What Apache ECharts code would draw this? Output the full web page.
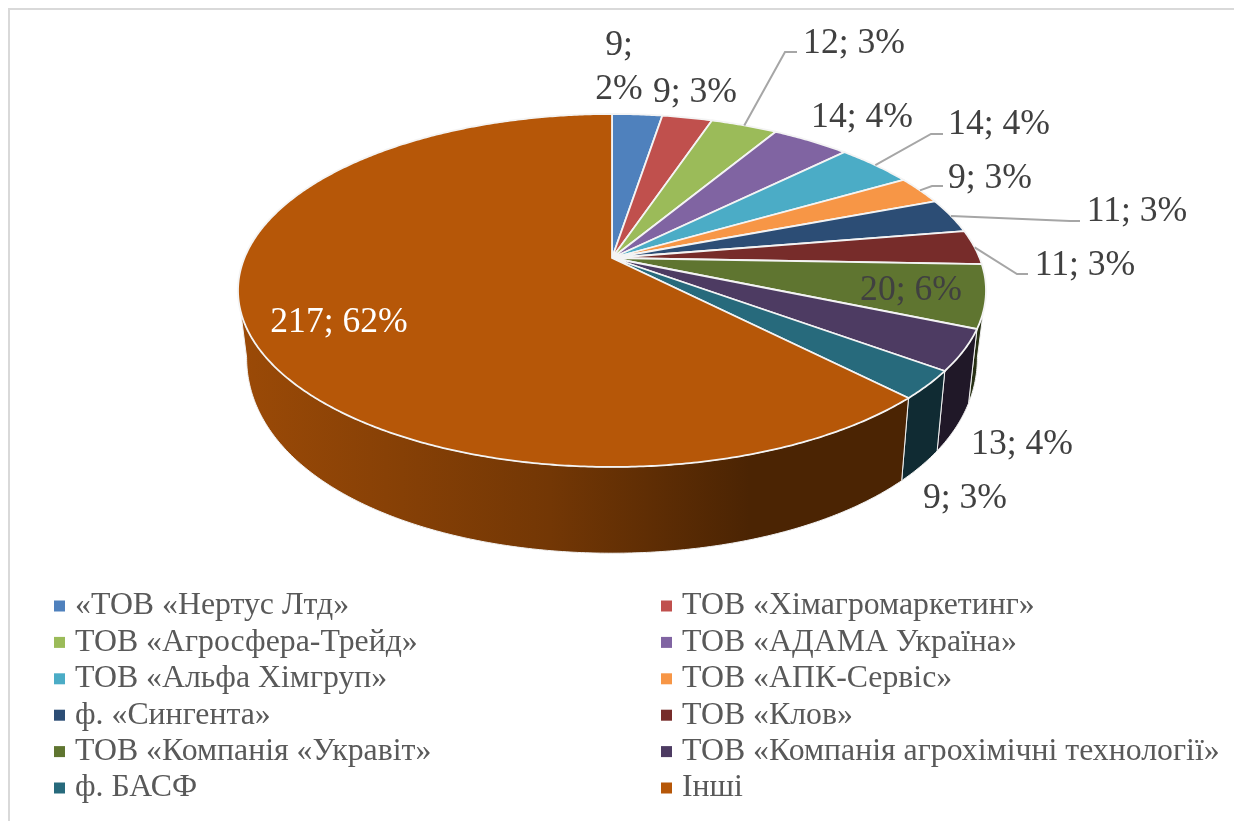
<!DOCTYPE html>
<html>
<head>
<meta charset="utf-8">
<style>
    html, body { margin: 0; padding: 0; background: #ffffff; }
    #chart { width: 1234px; height: 821px; }
</style>
<script src="https://cdn.jsdelivr.net/npm/echarts@6/dist/echarts.min.js"></script>
</head>
<body>
<div id="chart"></div>
<script>
const companies = [
    '«ТОВ «Нертус Лтд»', 'ТОВ «Хімагромаркетинг»', 'ТОВ «Агросфера-Трейд»', 'ТОВ «АДАМА Україна»',
    'ТОВ «Альфа Хімгруп»', 'ТОВ «АПК-Сервіс»', 'ф. «Сингента»', 'ТОВ «Клов»',
    'ТОВ «Компанія «Укравіт»', 'ТОВ «Компанія агрохімічні технології»', 'ф. БАСФ', 'Інші'
];
const counts = [9, 9, 12, 14, 14, 9, 11, 11, 20, 13, 9, 217];
const percents = [2, 3, 3, 4, 4, 3, 3, 3, 6, 4, 3, 62];

// оформление, не данные
const sliceColors = ['#4f81bd', '#c0504d', '#9bbb59', '#8064a2', '#4bacc6', '#f79646',
    '#2c4d75', '#772c2a', '#5f7530', '#4d3b62', '#276a7c', '#b65708'];
const labelCenters = [[619, 68], [695, 93], [854, 44], [862, 118], [999, 125], [990, 179],
    [1137, 212], [1085, 266], [911, 291], [1022, 445], [965, 499], [339, 323]];
// изломы выносок: [излом, конец у подписи]
const leaders = {
    2: [[785, 52], [797, 52]],
    4: [[931, 134], [943, 134]],
    5: [[932, 186], [943, 186]],
    6: [[1070, 221], [1080, 221]],
    7: [[1017, 274], [1028, 274]]
};

// перспектива диска
const cx = 612, cy = 258, rx = 367.6, ry = 170.5, persp = 0.184;
const lowY = 318, lowRy = 211.7, lowPersp = 0.1, lowScale = 0.977;
const wallFrom = 100.6, wallTo = 259.4;

const total = counts.reduce((a, b) => a + b, 0);
const startAngles = [];
counts.reduce((sum, v, i) => {
    startAngles[i] = sum / total * 360;
    return sum + v;
}, 0);

function topPoint(deg) {
    const t = deg * Math.PI / 180;
    const z = -Math.cos(t), w = 1 - persp * z;
    return [cx + rx * Math.sin(t) / w, cy + ry * z / w];
}

function lowPoint(deg) {
    const t = deg * Math.PI / 180;
    const z = -Math.cos(t), w = 1 - persp * z;
    return [cx + lowScale * rx * Math.sin(t) / w, lowY + lowRy * z / (1 - lowPersp * z)];
}

function arc(fn, from, to) {
    const pts = [];
    const n = Math.max(2, Math.ceil((to - from) * 2));
    for (let i = 0; i <= n; i++) {
        pts.push(fn(from + (to - from) * i / n));
    }
    return pts;
}

function shade(hex, f) {
    const n = parseInt(hex.slice(1), 16);
    const c = [n >> 16, (n >> 8) & 255, n & 255].map(v => Math.round(v * f));
    return 'rgb(' + c.join(',') + ')';
}

function renderSlice(i, api) {
    const from = startAngles[i];
    const to = from + api.value(0) / total * 360;
    const children = [];

    const wa = Math.max(from, wallFrom), wb = Math.min(to, wallTo);
    if (wa < wb) {
        const c = sliceColors[i];
        children.push({
            type: 'polygon',
            z2: 1,
            shape: { points: arc(topPoint, wa, wb).concat(arc(lowPoint, wa, wb).reverse()) },
            style: {
                fill: new echarts.graphic.LinearGradient(238, 0, 986, 0, [
                    { offset: 0, color: shade(c, 0.85) },
                    { offset: 0.417, color: shade(c, 0.63) },
                    { offset: 0.684, color: shade(c, 0.41) },
                    { offset: 1, color: shade(c, 0.41) }
                ], true),
                stroke: '#f2f2f2',
                lineWidth: 1
            }
        });
    }

    children.push({
        type: 'polygon',
        z2: 2,
        shape: { points: [[cx, cy]].concat(arc(topPoint, from, to)) },
        style: { fill: sliceColors[i], stroke: '#f4f4f4', lineWidth: 1.8 }
    });

    if (leaders[i]) {
        children.push({
            type: 'polyline',
            z2: 3,
            shape: { points: [topPoint((from + to) / 2)].concat(leaders[i]) },
            style: { fill: null, stroke: '#a6a6a6', lineWidth: 2 }
        });
    }

    const text = i === 0
        ? api.value(0) + ';\n' + percents[i] + '%'
        : api.value(0) + '; ' + percents[i] + '%';
    children.push({
        type: 'text',
        z2: 4,
        style: {
            text: text,
            x: labelCenters[i][0],
            y: labelCenters[i][1],
            align: 'center',
            verticalAlign: 'middle',
            font: '35.6px "Liberation Serif"',
            lineHeight: 44,
            fill: i === counts.length - 1 ? '#ffffff' : '#404040'
        }
    });

    return { type: 'group', children: children };
}

const series = companies.map((name, i) => ({
    type: 'custom',
    name: name,
    coordinateSystem: 'none',
    itemStyle: { color: sliceColors[i] },
    data: [[counts[i]]],
    renderItem: (params, api) => renderSlice(i, api)
}));

function legendColumn(left, odd) {
    return {
        orient: 'vertical',
        left: left,
        top: 585,
        icon: 'rect',
        itemWidth: 11,
        itemHeight: 11,
        itemGap: 4.4,
        selectedMode: false,
        data: companies.filter((n, i) => i % 2 === odd),
        textStyle: {
            fontFamily: '"Liberation Serif"',
            fontSize: 31.8,
            lineHeight: 30,
            color: '#595959',
            padding: [0, 0, 0, 5]
        }
    };
}

const chart = echarts.init(document.getElementById('chart'));
chart.setOption({
    animation: false,
    backgroundColor: '#ffffff',
    graphic: [{
        type: 'polyline',
        shape: { points: [[9, 821], [9, 9], [1234, 9]] },
        style: { fill: null, stroke: '#d9d9d9', lineWidth: 2 }
    }],
    legend: [legendColumn(49, 0), legendColumn(656, 1)],
    series: series
});
</script>
</body>
</html>
